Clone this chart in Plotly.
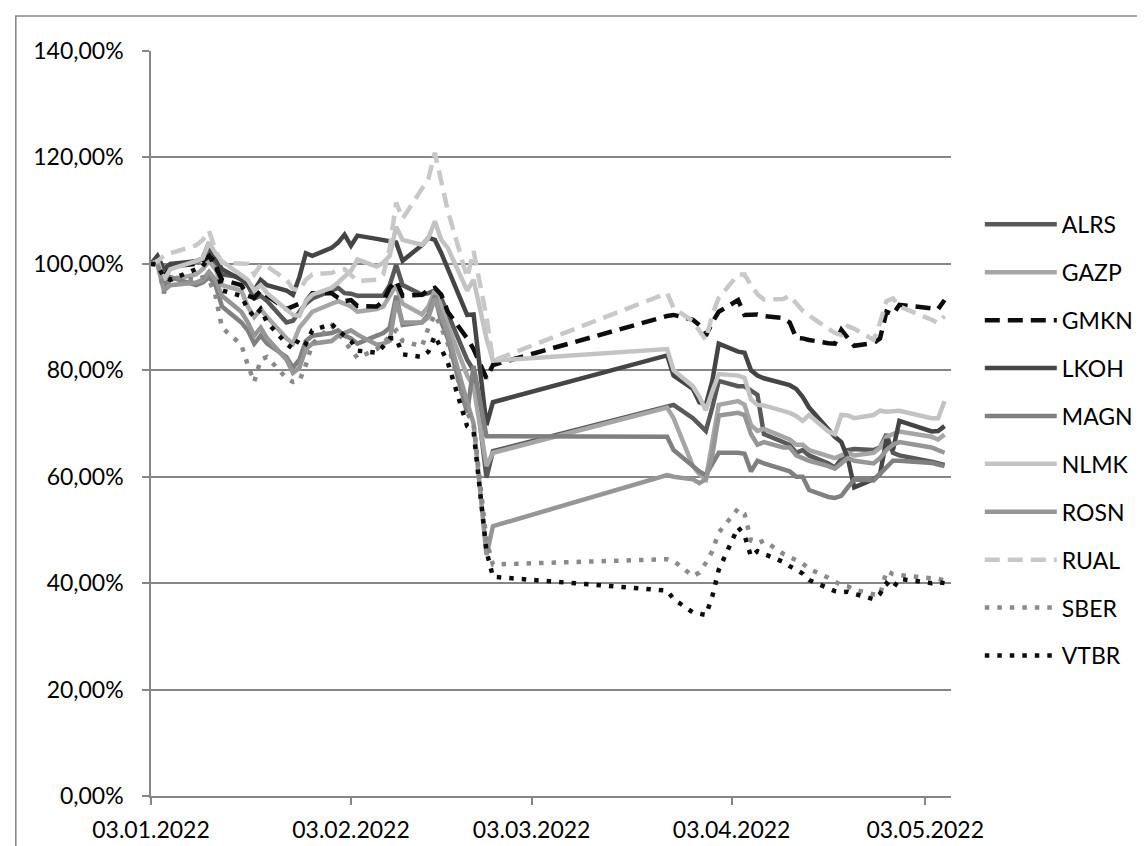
import plotly.graph_objects as go

dates = [
    "2022-01-03", "2022-01-04", "2022-01-05", "2022-01-06",
    "2022-01-10", "2022-01-11", "2022-01-12", "2022-01-13", "2022-01-14",
    "2022-01-17", "2022-01-18", "2022-01-19", "2022-01-20", "2022-01-21",
    "2022-01-24", "2022-01-25", "2022-01-26", "2022-01-27", "2022-01-28",
    "2022-01-31", "2022-02-01", "2022-02-02", "2022-02-03", "2022-02-04",
    "2022-02-07", "2022-02-08", "2022-02-09", "2022-02-10", "2022-02-11",
    "2022-02-14", "2022-02-15", "2022-02-16", "2022-02-17", "2022-02-18",
    "2022-02-21", "2022-02-22", "2022-02-24", "2022-02-25",
    "2022-03-24", "2022-03-25",
    "2022-03-28", "2022-03-29", "2022-03-30", "2022-03-31", "2022-04-01",
    "2022-04-04", "2022-04-05", "2022-04-06", "2022-04-07", "2022-04-08",
    "2022-04-11", "2022-04-12", "2022-04-13", "2022-04-14", "2022-04-15",
    "2022-04-18", "2022-04-19", "2022-04-20", "2022-04-21", "2022-04-22",
    "2022-04-25", "2022-04-26", "2022-04-27", "2022-04-28", "2022-04-29",
    "2022-05-04", "2022-05-05", "2022-05-06",
]

# values in % of the 03.01.2022 level
ALRS = [100, 101, 97, 99.5, 100.5, 100.8, 103, 100, 98, 97.5, 96, 93.5, 94, 93, 89, 89.3, 91, 92.5, 93.5,
        95, 95.5, 94.5, 94.4, 94, 94, 94, 96, 99.8, 96, 94.2, 94.5, 95, 93.5, 90.5, 82, 80, 59.8, 64.8,
        73.3, 73.5, 71, 69.7, 68.6, 73, 78, 77, 77, 76.2, 75.4, 68, 66.5, 66, 64.5, 65, 64, 62.5, 61.7,
        63.5, 65, 65.2, 65, 65.5, 68, 64.5, 64, 62.8, 62.5, 62.2]
GAZP = [100, 101, 96, 97, 98, 99, 100.5, 99, 96, 95, 92, 90, 91.5, 90, 86, 85, 88, 89.5, 91,
        92.5, 93, 92.5, 92, 91, 91.5, 92, 94, 96, 92.5, 90.5, 92, 95, 92, 88.5, 79, 77, 62, 64.5,
        73, 71, 62, 60.5, 59.5, 66, 73.5, 74.2, 73.5, 69.7, 68.6, 69, 67.5, 67, 66, 66, 65, 64, 63.5,
        64, 64.5, 64, 64.5, 65.5, 67.5, 68, 68.5, 67.5, 67, 67.9]
GMKN = [100, 100.5, 97.5, 99.5, 100, 100.5, 101.5, 99.5, 97, 96, 94, 93.6, 95, 94, 91.5, 92, 92.5, 93, 94.5,
        94.5, 93.6, 93, 93.2, 92.1, 92, 93, 95.5, 96.8, 94, 94.2, 95.1, 95.5, 94.2, 91, 86, 84, 78.5, 81,
        90.2, 90.4, 89.5, 88.5, 86.5, 89, 91, 93.2, 90.4, 90.4, 90.5, 90.2, 89.8, 89, 86.1, 86, 85.7, 85.1,
        85, 87.6, 86.1, 84.6, 85.1, 86, 91, 90.5, 92.3, 91.7, 91.5, 93.2]
LKOH = [100, 101.5, 99, 100, 100.5, 101, 104, 101, 99, 97, 96, 95, 97, 96, 95, 94.2, 97.5, 102, 101.5,
        103, 104, 105.5, 103.4, 105.3, 104.7, 104.5, 104.3, 104, 100.6, 103.5, 104.9, 104.5, 102, 99, 90.4,
        90.5, 69.7, 74,
        82.8, 79, 76.5, 74, 73.5, 78, 85, 83.5, 83.3, 80, 79, 78.5, 77.5, 77.2, 76.5, 75, 73, 69, 67.5,
        66.5, 63.5, 58, 59.5, 60.5, 67, 65, 70.5, 68.5, 68.6, 69.5]
MAGN = [100, 100.5, 96, 97.5, 96, 96.5, 97.5, 96, 92, 89, 87.5, 85, 86.5, 85, 82.5, 80.5, 82, 85.5, 86.5,
        87, 87.5, 86.5, 86, 85, 86.5, 87, 88, 94, 88.5, 89, 90.5, 94, 89, 86, 72, 80.8, 67.6, 67.6,
        67.5, 65, 62, 61, 60.3, 62.5, 64.5, 64.5, 64.3, 61, 63, 62.5, 61.5, 61, 60, 60, 57.5, 56.2, 56,
        56.4, 58, 59.5, 59.3, 60.5, 61.5, 63, 63, 62.6, 62.3, 62]
NLMK = [100, 100.5, 97, 99, 100.5, 101, 104, 102, 100.5, 98, 97, 95, 96, 94.5, 91.5, 90.4, 90.2, 93, 94.2,
        95.5, 96.5, 97.5, 98.7, 100.8, 99.5, 100.2, 101.5, 107, 104.5, 103.6, 104.9, 108, 104.5, 103, 95,
        97, 86, 81.8,
        84, 80, 77, 75, 72.5, 76, 79.3, 79, 78.6, 74.5, 73.5, 73.4, 72.5, 72, 71.4, 70.5, 71.6, 68.5, 68,
        71.6, 71.5, 71, 71.6, 72.4, 72.2, 72.3, 72.4, 71, 71, 74.2]
ROSN = [100, 100, 95, 96, 96.5, 97, 98.5, 97, 94, 91, 89, 86.5, 88, 86, 82, 79.5, 80.5, 84, 85,
        85.5, 86.5, 87, 87.5, 86.7, 84.8, 85, 85.5, 93, 89, 89, 90, 93.5, 90, 87, 74, 70, 45.3, 50.7,
        60.3, 60, 59.5, 58.8, 59.5, 64, 71.5, 72, 71.6, 68, 66, 66.5, 65.5, 65.5, 64, 63.5, 63, 62, 61.5,
        62.5, 63.5, 63, 62.5, 63.5, 65, 66, 66.5, 65.5, 65, 64.5]
RUAL = [100, 100.5, 101.5, 102, 103.5, 104.5, 106.2, 102.5, 100.2, 100.2, 100, 98, 99.8, 99.5, 97, 95.3,
        95, 97, 98, 98.3, 98.8, 99, 98, 96.8, 97, 98, 103, 111.5, 108.5, 114, 116, 120.9, 115.5, 110,
        97.4, 102.4, 90, 81.8,
        94.5, 91.7, 89.2, 87.5, 85.7, 90.5, 93.6, 98, 98, 96, 94.3, 93.3, 93.4, 94, 92.7, 91.2, 90.3,
        87.8, 87, 86.6, 88.3, 87.8, 85.7, 89, 93, 93.5, 92, 89.5, 88.9, 90.2]
SBER = [100, 100.5, 94.5, 97.5, 97, 97.5, 97, 94, 88, 84.8, 81, 77.8, 82, 82.5, 78.5, 77.8, 78, 81, 85,
        88.4, 87, 85.5, 83.8, 82.3, 84, 85, 86.5, 87.5, 85.5, 84.5, 88, 90.5, 88, 85, 72, 70, 48, 43.5,
        44.5, 44.2, 41.3, 42, 43.8, 46, 49.5, 54, 53, 48, 47.5, 48, 45.5, 45, 44.3, 43.7, 42.7, 41, 40.2,
        39.6, 39.4, 38.8, 37.9, 37.8, 42.3, 41.7, 41.5, 41, 40.8, 40.5]
VTBR = [100, 99.8, 97.5, 97, 99, 99.5, 101.3, 100.5, 95, 94, 91.5, 90, 91.5, 89, 85, 84, 86, 85, 87.5,
        88.7, 87.5, 86.5, 85.5, 83.7, 83.3, 84.5, 86, 86, 83, 82.5, 83.5, 86.5, 84, 81.5, 69.5, 68.5,
        46, 41.2,
        38.6, 37, 34.5, 34.2, 34, 37.5, 42.5, 50.5, 49, 45, 46, 45.5, 44, 43.2, 42.5, 41.8, 40.6, 38.9,
        38.5, 38.3, 38.4, 38, 37, 38, 40, 39, 40.8, 40, 40.2, 40]

series_names = ["ALRS", "GAZP", "GMKN", "LKOH", "MAGN", "NLMK", "ROSN", "RUAL", "SBER", "VTBR"]
series_values = [ALRS, GAZP, GMKN, LKOH, MAGN, NLMK, ROSN, RUAL, SBER, VTBR]

tick_dates = ["2022-01-03", "2022-02-03", "2022-03-03", "2022-04-03", "2022-05-03"]
tick_labels = ["03.01.2022", "03.02.2022", "03.03.2022", "03.04.2022", "03.05.2022"]

DASH = "15px,8px"
DOT = "4.5px,8px"
styles = {
    "ALRS": dict(color="#595959", dash="solid"),
    "GAZP": dict(color="#a6a6a6", dash="solid"),
    "GMKN": dict(color="#0d0d0d", dash=DASH),
    "LKOH": dict(color="#454545", dash="solid"),
    "MAGN": dict(color="#808080", dash="solid"),
    "NLMK": dict(color="#c3c3c3", dash="solid"),
    "ROSN": dict(color="#969696", dash="solid"),
    "RUAL": dict(color="#c8c8c8", dash=DASH),
    "SBER": dict(color="#8a8a8a", dash=DOT),
    "VTBR": dict(color="#0d0d0d", dash=DOT),
}

FONT = "Lato, 'Open Sans', sans-serif"
AX = "#868686"

fig = go.Figure()
for name, vals in zip(series_names, series_values):
    st = styles[name]
    fig.add_trace(go.Scatter(
        x=dates, y=vals, name=name, mode="lines",
        legendgroup=name,
        line=dict(color=st["color"], width=4.5, dash=st["dash"]),
    ))

fig.update_layout(
    width=1145, height=846,
    margin=dict(l=143, r=202, t=43, b=58),
    paper_bgcolor="white", plot_bgcolor="white",
    separators=", ",
    font=dict(family=FONT, size=23, color="#000000"),
    showlegend=True,
    legend=dict(
        x=1.036, xanchor="left", y=0.478, yanchor="middle",
        font=dict(family=FONT, size=23, color="#000000"),
        traceorder="grouped", tracegroupgap=15,
        itemwidth=72,
        bgcolor="rgba(0,0,0,0)",
    ),
    xaxis=dict(
        type="date",
        range=["2022-01-03", "2022-05-07"],
        tickvals=tick_dates, ticktext=tick_labels,
        showgrid=False, zeroline=False,
        showline=True, linecolor=AX, linewidth=1.5,
        ticks="outside", ticklen=7, tickcolor=AX, tickwidth=1.5,
        ticklabelstandoff=6,
        tickfont=dict(family=FONT, size=23, color="#000000"),
    ),
    yaxis=dict(
        range=[0, 140], dtick=20, tick0=0,
        tickformat=".2f", ticksuffix="%",
        showgrid=True, gridcolor=AX, gridwidth=1.5,
        zeroline=False,
        showline=True, linecolor=AX, linewidth=1.5,
        ticks="outside", ticklen=7, tickcolor=AX, tickwidth=1.5,
        ticklabelstandoff=14,
        tickfont=dict(family=FONT, size=23, color="#000000"),
    ),
    shapes=[dict(
        type="rect", xref="paper", yref="paper",
        x0=-0.169, x1=1.4, y0=-0.2, y1=1.047,
        line=dict(color="#868686", width=1.5), fillcolor="rgba(0,0,0,0)", layer="below",
    )],
)

fig.write_html("out.html")
